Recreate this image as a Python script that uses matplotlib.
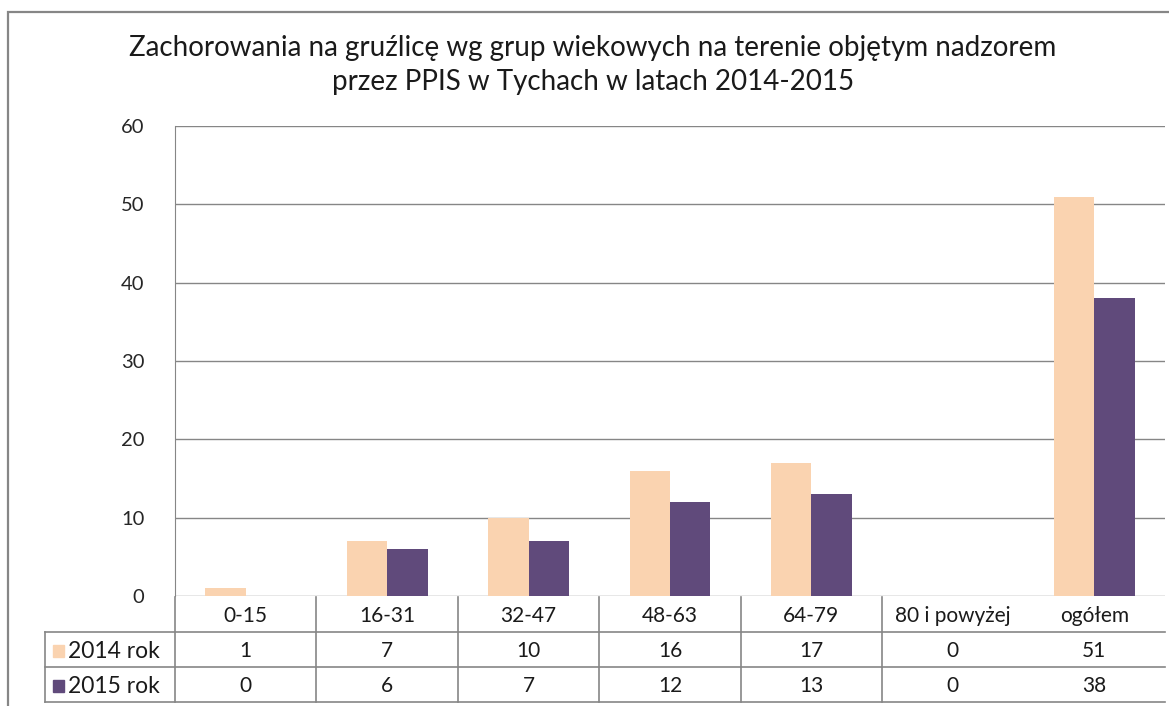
import matplotlib.pyplot as plt
from matplotlib.patches import Rectangle

plt.rcParams["font.family"] = ["Lato", "DejaVu Sans"]

# ── Data ─────────────────────────────────────────────────────────────────────
groups = ["0-15", "16-31", "32-47", "48-63", "64-79", "80 i powyżej", "ogółem"]
cases_2014 = [1, 7, 10, 16, 17, 0, 51]
cases_2015 = [0, 6, 7, 12, 13, 0, 38]
series_names = ["2014 rok", "2015 rok"]
colors = ["#FAD3B0", "#604A7B"]
yticks = [0, 10, 20, 30, 40, 50, 60]

title = ("Zachorowania na gruźlicę wg grup wiekowych na terenie objętym nadzorem\n"
         "przez PPIS w Tychach w latach 2014-2015")

W, H = 1169, 706
GRID = "#868686"
TXT = "#1a1a1a"

fig = plt.figure(figsize=(W / 100, H / 100), dpi=100)

# outer chart frame (right/bottom edges fall outside the picture)
fig.patches.append(Rectangle((8 / W, -0.1), 1.2, 1 - 12 / H + 0.1,
                             transform=fig.transFigure, fill=False,
                             edgecolor=GRID, lw=1.6))

# ── Bars ─────────────────────────────────────────────────────────────────────
ax = fig.add_axes([175 / W, (H - 596) / H, 990 / W, 470 / H])
n = len(groups)
x = list(range(n))
bw = 1 / 3.5
ax.bar([i - bw / 2 for i in x], cases_2014, width=bw, color=colors[0], zorder=3)
ax.bar([i + bw / 2 for i in x], cases_2015, width=bw, color=colors[1], zorder=3)
ax.set_xlim(-0.5, n - 0.5)
ax.set_ylim(0, 60)
ax.set_yticks(yticks)
ax.set_yticklabels([str(t) for t in yticks], fontsize=14.5, color="#262626")
ax.tick_params(axis="y", length=0, pad=22)
ax.set_xticks([])
ax.grid(axis="y", color=GRID, lw=1)
for s in ["top", "right", "bottom"]:
    ax.spines[s].set_visible(False)
ax.spines["left"].set_color(GRID)
fig.text(593 / W, 1 - 65 / H, title, ha="center", va="center",
         fontsize=20, linespacing=1.4, color=TXT)

# ── Data table ───────────────────────────────────────────────────────────────
lead = 130 / (990 / n)                    # legend column width in category units
tab = fig.add_axes([45 / W, (H - 702) / H, 1120 / W, 105 / H])
tab.set_xlim(-0.5 - lead, n - 0.5)
tab.set_ylim(3, 0)
tab.axis("off")

tab.plot([-0.5 - lead, n - 0.5], [1, 1], color=GRID, lw=1.2, clip_on=False)
tab.plot([-0.5 - lead, n - 0.5], [2, 2], color=GRID, lw=1.2, clip_on=False)
tab.plot([-0.5 - lead, n - 0.5], [3, 3], color=GRID, lw=1.2, clip_on=False)
tab.plot([-0.5 - lead, -0.5 - lead], [1, 3], color=GRID, lw=1.2, clip_on=False)
tab.plot([-0.5, -0.5], [0, 3], color=GRID, lw=1.2, clip_on=False)
for b in range(n - 2):
    tab.plot([b + 0.5, b + 0.5], [0, 3], color=GRID, lw=1.2, clip_on=False)

for i, g in enumerate(groups):
    tab.text(i, 0.55, g, ha="center", va="center", fontsize=15, color=TXT)
    tab.text(i, 1.55, str(cases_2014[i]), ha="center", va="center",
             fontsize=15, color=TXT)
    tab.text(i, 2.55, str(cases_2015[i]), ha="center", va="center",
             fontsize=15, color=TXT)

for r, (name, c) in enumerate(zip(series_names, colors)):
    tab.add_patch(Rectangle((-0.5 - lead + 0.055, r + 1.36), 0.08, 0.34,
                            color=c, clip_on=False))
    tab.text(-0.5 - lead + 0.165, r + 1.55, name, ha="left", va="center",
             fontsize=16.5, color=TXT)

plt.savefig("out.png", dpi=100)
